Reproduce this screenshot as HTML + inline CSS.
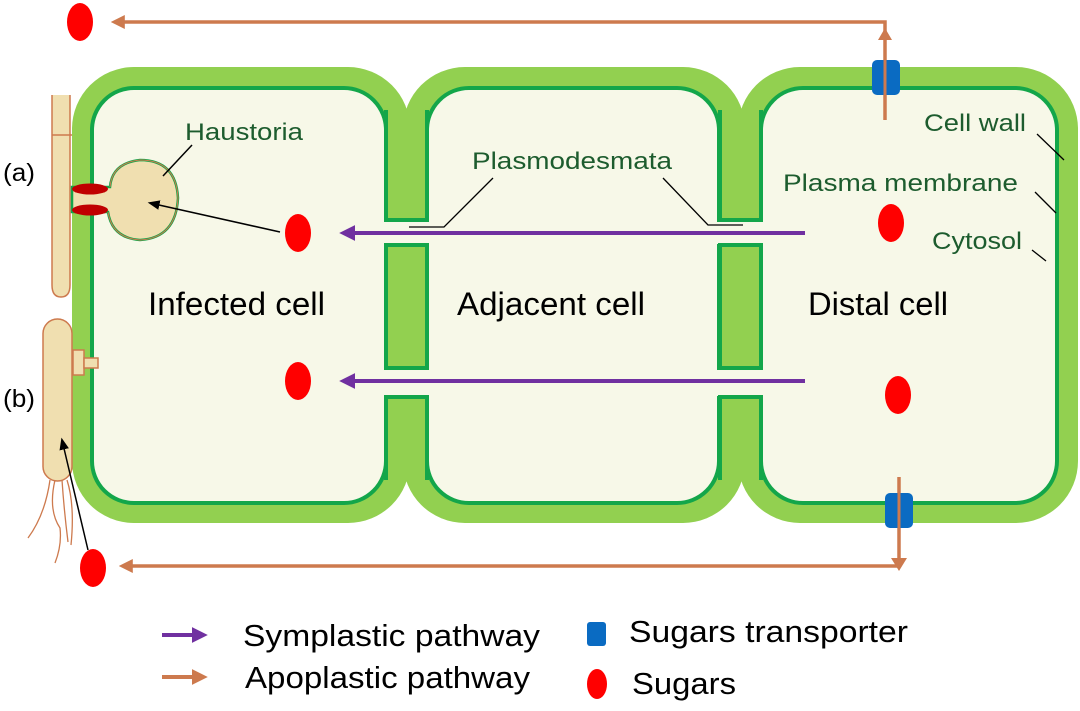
<!DOCTYPE html>
<html><head><meta charset="utf-8"><style>
html,body{margin:0;padding:0;background:#fff;}
svg{display:block;}
text{font-family:"Liberation Sans",sans-serif;}
</style></head><body>
<svg width="1080" height="711" viewBox="0 0 1080 711" xmlns="http://www.w3.org/2000/svg">
<defs>
<marker id="pa" viewBox="0 0 10 10" refX="2" refY="5" markerWidth="4" markerHeight="4" orient="auto-start-reverse"><path d="M0,0 L10,5 L0,10 z" fill="#7030a0"/></marker>
<marker id="oa" viewBox="0 0 10 10" refX="2" refY="5" markerWidth="4" markerHeight="4" orient="auto-start-reverse"><path d="M0,0 L10,5 L0,10 z" fill="#cd7a4e"/></marker>
<marker id="ka" viewBox="0 0 10 10" refX="8" refY="5" markerWidth="8" markerHeight="8" orient="auto"><path d="M0,1 L10,5 L0,9 z" fill="#000"/></marker>
</defs>
<rect x="72" y="67" width="338" height="456" rx="62" fill="#92d050"/>
<rect x="403" y="67" width="342" height="456" rx="62" fill="#92d050"/>
<rect x="738" y="67" width="340" height="456" rx="62" fill="#92d050"/>
<rect x="380" y="110" width="50" height="370" fill="#92d050"/>
<rect x="714" y="110" width="50" height="370" fill="#92d050"/>
<g fill="#f7f8e8" stroke="#13a64a" stroke-width="4">
<rect x="92" y="88" width="294" height="415" rx="42"/>
<rect x="427" y="88" width="292" height="415" rx="42"/>
<rect x="761" y="88" width="296" height="415" rx="42"/>
</g>
<g fill="#f7f8e8">
<rect x="383" y="222" width="48" height="22"/>
<rect x="383" y="370" width="48" height="26"/>
<rect x="717" y="222" width="46" height="22"/>
<rect x="717" y="370" width="46" height="26"/>
</g>
<g stroke="#13a64a" stroke-width="4" fill="none">
<path d="M386,110 V220 H427 V110"/>
<path d="M386,480 V397 H427 V480"/>
<rect x="386" y="245" width="41" height="123"/>
<path d="M720,110 V220 H761 V110"/>
<path d="M720,480 V397 H761 V480"/>
<rect x="720" y="245" width="41" height="123"/>
</g>
<path d="M52,95 V285 Q52,297 61,297 Q70,297 70,285 V95" fill="#f0dfb0" stroke="#cd7a4e" stroke-width="1.5"/>
<line x1="52" y1="135" x2="72" y2="135" stroke="#cd7a4e" stroke-width="1.5"/>
<path d="M72,187 H110 Q112,163 140,160 Q176,160 178,198 Q176,238 140,240 Q112,238 108,212 H72 Z" fill="#f0dfb0" stroke="#13a64a" stroke-width="2.5"/>
<path d="M110,187 Q112,163 140,160 Q176,160 178,198 Q176,238 140,240 Q112,238 108,212" fill="none" stroke="#cd7a4e" stroke-width="1"/>
<ellipse cx="90" cy="189" rx="18" ry="5.5" fill="#c00000"/>
<ellipse cx="90" cy="210" rx="18" ry="5.5" fill="#c00000"/>
<line x1="163" y1="176" x2="192" y2="145" stroke="#000" stroke-width="1.5"/>
<text x="185" y="140" font-size="24" fill="#1d5c2e" textLength="118" lengthAdjust="spacingAndGlyphs">Haustoria</text>
<line x1="280" y1="232" x2="150" y2="203" stroke="#000" stroke-width="1.5" marker-end="url(#ka)"/>
<rect x="43" y="319" width="29" height="162" rx="14.5" fill="#f0dfb0" stroke="#cd7a4e" stroke-width="1.5"/>
<rect x="73" y="350" width="11" height="25" fill="#f0dfb0" stroke="#cd7a4e" stroke-width="1.5"/>
<rect x="84" y="358" width="14" height="10" fill="#f0dfb0" stroke="#cd7a4e" stroke-width="1.5"/>
<g stroke="#cd7a4e" stroke-width="1.3" fill="none">
<path d="M50,480 Q45,515 28,538"/><path d="M55,480 Q48,510 60,528 Q62,545 55,563"/><path d="M62,480 Q64,510 68,542"/><path d="M67,480 Q75,505 71,545"/>
</g>
<line x1="88" y1="550" x2="62" y2="440" stroke="#000" stroke-width="1.5" marker-end="url(#ka)"/>
<text x="3" y="181" font-size="25" fill="#000" textLength="32" lengthAdjust="spacingAndGlyphs">(a)</text>
<text x="3" y="407" font-size="25" fill="#000" textLength="32" lengthAdjust="spacingAndGlyphs">(b)</text>
<text x="472" y="169" font-size="24" fill="#1d5c2e" textLength="200" lengthAdjust="spacingAndGlyphs">Plasmodesmata</text>
<path d="M409,227 H444 L493,178" stroke="#000" stroke-width="1.3" fill="none"/>
<path d="M743,225 H708 L663,178" stroke="#000" stroke-width="1.3" fill="none"/>
<line x1="805" y1="233" x2="352" y2="233" stroke="#7030a0" stroke-width="4" marker-end="url(#pa)"/>
<line x1="805" y1="381" x2="352" y2="381" stroke="#7030a0" stroke-width="4" marker-end="url(#pa)"/>
<polyline points="885,120 885,22 122,22" fill="none" stroke="#cd7a4e" stroke-width="3.5" marker-end="url(#oa)"/>
<polyline points="899,477 899,566 130,566" fill="none" stroke="#cd7a4e" stroke-width="3.5" marker-end="url(#oa)"/>
<path d="M878,40 L885,28 L892,40" fill="#cd7a4e"/>
<path d="M891,558 L899,571 L907,558 Z" fill="#cd7a4e"/>
<rect x="872" y="60" width="28" height="35" rx="5" fill="#0a6bc2"/>
<line x1="885" y1="55" x2="885" y2="120" stroke="#cd7a4e" stroke-width="3"/>
<rect x="885" y="493" width="28" height="35" rx="5" fill="#0a6bc2"/>
<line x1="899" y1="477" x2="899" y2="540" stroke="#cd7a4e" stroke-width="3"/>
<g fill="#ff0000">
<ellipse cx="298" cy="233" rx="13" ry="19"/>
<ellipse cx="298" cy="381" rx="13" ry="19"/>
<ellipse cx="891" cy="223" rx="13" ry="19"/>
<ellipse cx="898" cy="395" rx="13" ry="19"/>
<ellipse cx="80" cy="22" rx="13" ry="19"/>
<ellipse cx="93" cy="568" rx="13" ry="19"/>
</g>
<text x="924" y="131" font-size="24" fill="#1d5c2e" textLength="102" lengthAdjust="spacingAndGlyphs">Cell wall</text>
<line x1="1037" y1="134" x2="1064" y2="160" stroke="#000" stroke-width="1.3"/>
<text x="783" y="191" font-size="24" fill="#1d5c2e" textLength="235" lengthAdjust="spacingAndGlyphs">Plasma membrane</text>
<line x1="1035" y1="192" x2="1056" y2="213" stroke="#000" stroke-width="1.3"/>
<text x="932" y="249" font-size="24" fill="#1d5c2e" textLength="90" lengthAdjust="spacingAndGlyphs">Cytosol</text>
<line x1="1032" y1="250" x2="1046" y2="261" stroke="#000" stroke-width="1.3"/>
<text x="148" y="315" font-size="32" fill="#000" textLength="177" lengthAdjust="spacingAndGlyphs">Infected cell</text>
<text x="457" y="315" font-size="32" fill="#000" textLength="188" lengthAdjust="spacingAndGlyphs">Adjacent cell</text>
<text x="808" y="315" font-size="32" fill="#000" textLength="140" lengthAdjust="spacingAndGlyphs">Distal cell</text>
<line x1="162" y1="635" x2="195" y2="635" stroke="#7030a0" stroke-width="4" marker-end="url(#pa)"/>
<line x1="162" y1="677" x2="195" y2="677" stroke="#cd7a4e" stroke-width="4" marker-end="url(#oa)"/>
<text x="243" y="646" font-size="31" fill="#000" textLength="297" lengthAdjust="spacingAndGlyphs">Symplastic pathway</text>
<text x="245" y="688" font-size="31" fill="#000" textLength="285" lengthAdjust="spacingAndGlyphs">Apoplastic pathway</text>
<rect x="587" y="622" width="19" height="24" rx="3" fill="#0a6bc2"/>
<ellipse cx="597" cy="684" rx="10" ry="15" fill="#ff0000"/>
<text x="629" y="642" font-size="31" fill="#000" textLength="279" lengthAdjust="spacingAndGlyphs">Sugars transporter</text>
<text x="632" y="694" font-size="31" fill="#000" textLength="104" lengthAdjust="spacingAndGlyphs">Sugars</text>
</svg>
</body></html>
